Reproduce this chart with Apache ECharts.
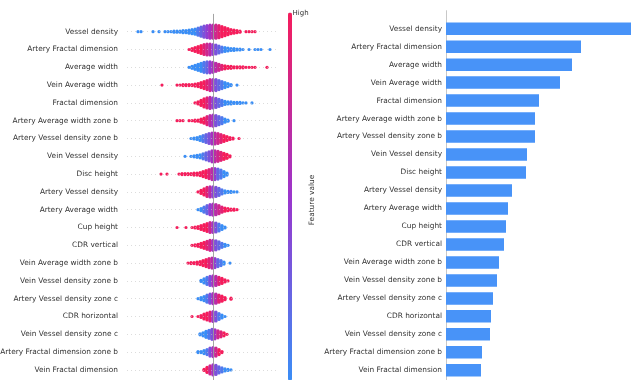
<!DOCTYPE html>
<html><head><meta charset="utf-8">
<script src="https://cdn.jsdelivr.net/npm/echarts@6/dist/echarts.min.js"></script>
<style>html,body{margin:0;padding:0;background:#fff}#c{width:641px;height:380px}</style>
</head><body><div id="c"></div>
<script>
const features = [
  'Vessel density', 'Artery Fractal dimension', 'Average width', 'Vein Average width',
  'Fractal dimension', 'Artery Average width zone b', 'Artery Vessel density zone b',
  'Vein Vessel density', 'Disc height', 'Artery Vessel density', 'Artery Average width',
  'Cup height', 'CDR vertical', 'Vein Average width zone b', 'Vein Vessel density zone b',
  'Artery Vessel density zone c', 'CDR horizontal', 'Vein Vessel density zone c',
  'Artery Fractal dimension zone b', 'Vein Fractal dimension'
];
// mean |SHAP| (bar panel)
const importance = [1.85, 1.35, 1.26, 1.14, 0.93, 0.89, 0.89, 0.81, 0.80, 0.66,
  0.62, 0.60, 0.58, 0.53, 0.51, 0.47, 0.45, 0.44, 0.36, 0.35];
// beeswarm: SHAP value of first bin centre per feature, bin width 0.03
const swarmStart = [-0.75, -0.24, -0.24, -0.51, -0.18, -0.36, -0.22, -0.28, -0.52, -0.15,
  -0.15, -0.36, -0.21, -0.25, -0.12, -0.15, -0.21, -0.13, -0.15, -0.09];
// number of samples in each SHAP bin
const swarmCounts = [
  [1,1,0,0,0,1,0,1,0,1,1,1,2,2,2,3,3,4,5,6,8,10,12,13,14,14,14,13,11,9,7,5,4,3,2,0,1,1,1,1],
  [1,3,5,7,9,11,12,12,11,10,8,6,5,4,3,3,2,2,1,0,1,0,1,1,1,0,0,1],
  [1,3,5,7,9,11,12,12,11,9,7,5,4,3,3,2,2,2,2,1,1,1,1,0,0,0,1],
  [1,0,0,0,0,1,1,2,2,2,2,3,4,6,8,10,12,12,12,10,8,6,4,2,0,1],
  [1,3,6,9,11,12,11,10,8,6,4,3,3,2,2,2,1,1,0,1],
  [1,1,1,0,1,1,2,2,4,6,9,11,12,11,9,7,4,2,0,1],
  [1,2,3,5,7,9,11,12,12,11,9,7,5,3,2,0,1],
  [1,0,1,2,3,4,6,8,10,12,12,11,9,7,5,2],
  [1,0,1,0,0,0,1,2,2,2,2,3,3,4,6,8,10,12,12,11,9,6,3],
  [1,4,7,10,11,11,10,8,5,3,2,2,1,1],
  [1,3,6,9,11,12,11,9,6,4,3,2,2,1],
  [1,0,0,1,0,1,2,3,5,7,9,11,11,10,8,5,2],
  [1,2,3,5,7,9,11,11,10,8,5,3,1],
  [1,2,2,3,4,6,8,10,11,10,8,6,3,0,1],
  [2,5,8,10,11,10,8,6,3,1],
  [1,3,5,8,10,11,10,8,6,3,0,2],
  [1,0,1,3,6,8,10,11,10,7,4,1],
  [2,4,7,9,11,10,8,6,4,1],
  [2,2,4,6,9,10,9,6,2],
  [2,6,9,11,10,7,5,3,2,1]
];
// feature value level (0 = low, 9 = high) in each bin
const swarmColors = [
  [0,0,0,0,0,0,0,0,0,0,0,0,0,0,0,0,0,0,0,0,1,2,3,4,5,6,7,8,9,9,9,9,9,9,9,9,9,9,9,9],
  [9,9,9,9,9,8,7,6,4,3,2,1,0,0,0,0,0,0,0,0,0,0,0,0,0,0,0,0],
  [0,0,0,0,0,1,2,4,5,6,7,8,9,9,9,9,9,9,9,9,9,9,9,9,9,9,9],
  [9,9,9,9,9,9,9,9,9,9,9,9,9,9,9,8,7,5,3,2,1,0,0,0,0,0],
  [9,9,9,9,8,6,4,3,2,1,0,0,0,0,0,0,0,0,0,0],
  [9,9,9,9,9,9,9,9,9,9,8,6,5,3,2,1,0,0,0,0],
  [0,0,0,0,1,2,3,5,6,7,8,9,9,9,9,9,9],
  [0,0,0,0,0,0,1,2,3,5,6,7,8,9,9,9],
  [9,9,9,9,9,9,9,9,9,9,9,9,9,9,9,9,8,6,4,2,1,0,0],
  [9,9,9,8,6,4,3,2,1,0,0,0,0,0],
  [0,0,1,2,4,5,6,7,8,9,9,9,9,9],
  [9,9,9,9,9,9,9,9,9,9,9,7,5,3,1,0,0],
  [9,9,9,9,9,8,7,5,3,2,1,0,0],
  [9,9,9,9,9,9,9,8,6,4,2,1,0,0,0],
  [0,0,1,3,5,6,8,9,9,9],
  [0,0,0,1,3,5,6,8,9,9,9,9],
  [9,9,9,9,9,9,8,5,3,1,0,0],
  [0,0,0,1,3,5,7,8,9,9],
  [0,0,0,1,3,5,7,9,9],
  [9,9,7,5,3,2,1,0,0,0]
];
const colorTicks = ['High', 'Feature value'];

const binWidth = 0.03;
const rowPx = 17.8;
const points = [];
swarmCounts.forEach((counts, r) => {
  counts.forEach((n, k) => {
    const x = swarmStart[r] + k * binWidth;
    for (let j = 0; j < n; j++) {
      points.push([x, r + (j - (n - 1) / 2) / rowPx, swarmColors[r][k]]);
    }
  });
});

const font = 'DejaVu Sans';
const chart = echarts.init(document.getElementById('c'), null, {renderer: 'canvas', width: 641, height: 380});
chart.setOption({
  animation: false,
  backgroundColor: '#fff',
  textStyle: {fontFamily: font},
  grid: [
    {left: 127, width: 151, top: 13.9, height: 21 * rowPx, outerBoundsMode: 'none', containLabel: false},
    {left: 446, width: 195, top: 10.7, height: 21 * 17.98, outerBoundsMode: 'none', containLabel: false}
  ],
  xAxis: [
    {gridIndex: 0, type: 'value', min: -0.86, max: 0.65, show: false},
    {gridIndex: 1, type: 'value', min: 0, max: 1.95, show: false}
  ],
  yAxis: [
    {gridIndex: 0, type: 'value', min: -1, max: 20, interval: 1, inverse: true,
      axisLine: {show: false}, axisTick: {show: false}, splitLine: {show: false},
      axisLabel: {fontSize: 7.4, color: '#333', margin: 9, fontFamily: font,
        formatter: v => (Number.isInteger(v) && v >= 0 && v < features.length) ? features[v] : ''}},
    {gridIndex: 1, type: 'category', inverse: true, boundaryGap: false,
      data: [' '].concat(features, ['  ']),
      axisLine: {show: true, lineStyle: {color: '#c8c8c8', width: 1}},
      axisTick: {show: false}, splitLine: {show: false},
      axisLabel: {fontSize: 7.4, color: '#333', margin: 4, fontFamily: font, interval: 0}}
  ],
  visualMap: {
    type: 'continuous', min: 0, max: 9, dimension: 2, seriesIndex: 0,
    calculable: false, show: true, orient: 'vertical', padding: 0,
    left: 288, top: 12.5, itemWidth: 4, itemHeight: 368, text: null,
    inRange: {color: ['#3a8ef6', '#9b35cc', '#f51d5c']}
  },
  graphic: [
    {type: 'text', left: 292.5, top: 10, style: {text: colorTicks[0], fontSize: 7, fill: '#333', fontFamily: font}},
    {type: 'text', x: 312, y: 200, rotation: Math.PI / 2,
      style: {text: colorTicks[1], fontSize: 7.4, fill: '#333', fontFamily: font, align: 'center', verticalAlign: 'middle'}}
  ],
  series: [
    {type: 'scatter', xAxisIndex: 0, yAxisIndex: 0, symbolSize: 3.2, z: 3,
      itemStyle: {opacity: 1}, data: points, silent: true},
    {type: 'scatter', xAxisIndex: 0, yAxisIndex: 0, data: [], z: 1, silent: true,
      markLine: {silent: true, symbol: ['none', 'none'], label: {show: false},
        data: features.map((f, i) => ({yAxis: i, lineStyle: {type: [1, 3], color: '#c4c4c4', width: 0.6}}))
          .concat([{xAxis: 0, lineStyle: {type: 'solid', color: '#9a9a9a', width: 0.9}}])}},
    {type: 'bar', xAxisIndex: 1, yAxisIndex: 1, barWidth: 12.5,
      itemStyle: {color: '#4893f8'}, data: [null].concat(importance, [null])}
  ]
});
</script>
</body></html>
